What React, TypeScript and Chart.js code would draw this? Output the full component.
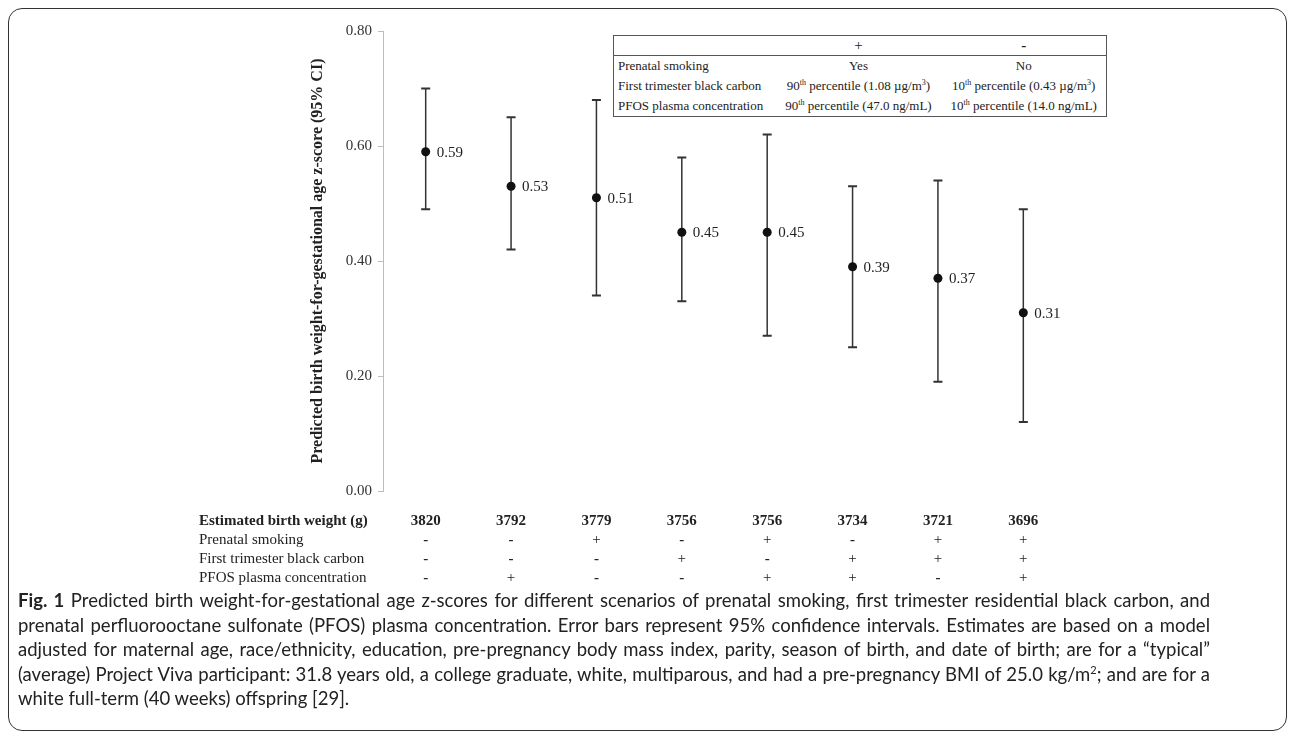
import React, { useEffect, useRef } from "react";
import { Chart, registerables } from "chart.js";

Chart.register(...registerables);

const weights = ["3820", "3792", "3779", "3756", "3756", "3734", "3721", "3696"];
const estimates = [0.59, 0.53, 0.51, 0.45, 0.45, 0.39, 0.37, 0.31];
const upperCI = [0.7, 0.65, 0.68, 0.58, 0.62, 0.53, 0.54, 0.49];
const lowerCI = [0.49, 0.42, 0.34, 0.33, 0.27, 0.25, 0.19, 0.12];
const smoking = ["-", "-", "+", "-", "+", "-", "+", "+"];
const blackCarbon = ["-", "-", "-", "+", "-", "+", "+", "+"];
const pfos = ["-", "+", "-", "-", "+", "+", "-", "+"];
const yTicks = [0, 0.2, 0.4, 0.6, 0.8];
const rowLabels = [
  "Estimated birth weight (g)",
  "Prenatal smoking",
  "First trimester black carbon",
  "PFOS plasma concentration",
];
const yTitle = "Predicted birth weight-for-gestational age z-score (95% CI)";

const SERIF = "'Liberation Serif', 'Times New Roman', serif";
const INK = "#222";

const errorBarPlugin = {
  id: "errorBars",
  beforeDatasetsDraw(chart: any) {
    const ctx = chart.ctx;
    const xs = chart.scales.x;
    const ys = chart.scales.y;
    ctx.save();
    ctx.strokeStyle = "#333";
    for (let i = 0; i < estimates.length; i++) {
      const x = xs.getPixelForValue(i);
      const yt = ys.getPixelForValue(upperCI[i]);
      const yb = ys.getPixelForValue(lowerCI[i]);
      ctx.lineWidth = 1.5;
      ctx.beginPath();
      ctx.moveTo(x, yt);
      ctx.lineTo(x, yb);
      ctx.stroke();
      ctx.lineWidth = 2.2;
      ctx.beginPath();
      ctx.moveTo(x - 4.5, yt);
      ctx.lineTo(x + 4.5, yt);
      ctx.moveTo(x - 4.5, yb);
      ctx.lineTo(x + 4.5, yb);
      ctx.stroke();
    }
    ctx.restore();
  },
  afterDatasetsDraw(chart: any) {
    const ctx = chart.ctx;
    const xs = chart.scales.x;
    const ys = chart.scales.y;
    ctx.save();
    ctx.fillStyle = INK;
    ctx.font = `15px ${SERIF}`;
    ctx.textAlign = "left";
    ctx.textBaseline = "middle";
    for (let i = 0; i < estimates.length; i++) {
      const x = xs.getPixelForValue(i);
      const y = ys.getPixelForValue(estimates[i]);
      ctx.fillText(estimates[i].toFixed(2), x + 11, y + 1);
    }
    ctx.restore();
  },
  afterDraw(chart: any) {
    const ctx = chart.ctx;
    const xs = chart.scales.x;
    const base = chart.chartArea.bottom + 30;
    const step = 19;
    ctx.save();
    ctx.fillStyle = INK;
    ctx.textBaseline = "middle";
    rowLabels.forEach((lab, r) => {
      ctx.font = `${r === 0 ? "bold " : ""}15px ${SERIF}`;
      ctx.textAlign = "left";
      ctx.fillText(lab, 199, base + r * step);
    });
    const rows = [weights, smoking, blackCarbon, pfos];
    rows.forEach((row, r) => {
      for (let i = 0; i < row.length; i++) {
        const x = xs.getPixelForValue(i);
        const v = row[i];
        ctx.textAlign = "center";
        ctx.font = `${r === 0 || v === "-" ? "bold " : ""}15px ${SERIF}`;
        ctx.fillText(v, x, base + r * step);
      }
    });
    ctx.restore();
  },
};

const sup: React.CSSProperties = { fontSize: "8px", verticalAlign: "super", lineHeight: 0 };

function InsetTable() {
  const cell: React.CSSProperties = { padding: "0 4px", height: "20px", whiteSpace: "nowrap" };
  const c = (t: React.ReactNode, align: "left" | "center" = "center") => (
    <td style={{ ...cell, textAlign: align }}>{t}</td>
  );
  return (
    <table
      style={{
        position: "absolute",
        left: 613,
        top: 35,
        width: 493,
        borderCollapse: "collapse",
        border: "1px solid #555",
        fontFamily: SERIF,
        fontSize: "13px",
        color: INK,
        background: "#fff",
        tableLayout: "fixed",
      }}
    >
      <colgroup>
        <col style={{ width: 162 }} />
        <col style={{ width: 166 }} />
        <col style={{ width: 165 }} />
      </colgroup>
      <tbody>
        <tr style={{ borderBottom: "1px solid #555" }}>
          <td style={{ ...cell, height: "19px" }}></td>
          <td style={{ ...cell, height: "19px", textAlign: "center", fontSize: "15px" }}>+</td>
          <td style={{ ...cell, height: "19px", textAlign: "center", fontWeight: "bold", fontSize: "15px" }}>-</td>
        </tr>
        <tr>
          {c("Prenatal smoking", "left")}
          {c("Yes")}
          {c("No")}
        </tr>
        <tr>
          {c("First trimester black carbon", "left")}
          {c(<>90<span style={sup}>th</span> percentile (1.08 µg/m<span style={sup}>3</span>)</>)}
          {c(<>10<span style={sup}>th</span> percentile (0.43 µg/m<span style={sup}>3</span>)</>)}
        </tr>
        <tr>
          {c("PFOS plasma concentration", "left")}
          {c(<>90<span style={sup}>th</span> percentile (47.0 ng/mL)</>)}
          {c(<>10<span style={sup}>th</span> percentile (14.0 ng/mL)</>)}
        </tr>
      </tbody>
    </table>
  );
}

export default function App() {
  const ref = useRef<HTMLCanvasElement | null>(null);
  useEffect(() => {
    if (!ref.current) return;
    const chart = new Chart(ref.current, {
      type: "line",
      data: {
        labels: weights,
        datasets: [
          {
            data: estimates,
            showLine: false,
            pointRadius: 4.5,
            pointBackgroundColor: "#111",
            pointBorderColor: "#111",
            pointBorderWidth: 0,
          },
        ],
      },
      options: {
        animation: false,
        responsive: false,
        devicePixelRatio: 1,
        layout: { padding: { left: 300, right: 226, top: 31, bottom: 245 } },
        plugins: { legend: { display: false }, tooltip: { enabled: false } },
        scales: {
          x: { type: "category", offset: true, display: false },
          y: {
            min: 0,
            max: 0.8,
            afterBuildTicks: (s: any) => {
              s.ticks = yTicks.map((v) => ({ value: v }));
            },
            afterFit: (s: any) => {
              s.width = 83;
            },
            ticks: {
              callback: (v: any) => Number(v).toFixed(2),
              font: { family: SERIF, size: 15 },
              color: "#333",
              padding: 6,
            },
            grid: { drawOnChartArea: false, drawTicks: true, tickLength: 5, color: "#bdbdbd" },
            border: { display: true, color: "#bdbdbd", width: 1 },
            title: {
              display: true,
              text: yTitle,
              font: { family: SERIF, size: 16, weight: "bold" },
              color: INK,
              padding: { top: 8, bottom: 0 },
            },
          },
        },
      },
      plugins: [errorBarPlugin],
    } as any);
    return () => chart.destroy();
  }, []);

  const just: React.CSSProperties = {
    whiteSpace: "nowrap",
    width: 1192,
    textAlign: "justify",
    textAlignLast: "justify" as any,
  };
  return (
    <div style={{ position: "absolute", left: 0, top: 0, width: 1292, height: 736, background: "#fff", overflow: "hidden" }}>
      <canvas ref={ref} width={1292} height={736} style={{ position: "absolute", left: 0, top: 0 }} />
      <InsetTable />
      <div
        style={{
          position: "absolute",
          left: 8,
          top: 8,
          width: 1279,
          height: 723,
          boxSizing: "border-box",
          border: "1.5px solid #333",
          borderRadius: 14,
          pointerEvents: "none",
        }}
      />
      <div
        style={{
          position: "absolute",
          left: 18,
          top: 588,
          fontFamily: "Lato, 'Noto Sans', sans-serif",
          fontSize: "18.5px",
          lineHeight: "24.5px",
          color: "#222",
        }}
      >
        <div style={just}>
          <b>Fig. 1</b> Predicted birth weight-for-gestational age z-scores for different scenarios of prenatal smoking, first trimester residential black carbon, and
        </div>
        <div style={just}>
          prenatal perfluorooctane sulfonate (PFOS) plasma concentration. Error bars represent 95% confidence intervals. Estimates are based on a model
        </div>
        <div style={just}>
          adjusted for maternal age, race/ethnicity, education, pre-pregnancy body mass index, parity, season of birth, and date of birth; are for a “typical”
        </div>
        <div style={just}>
          (average) Project Viva participant: 31.8 years old, a college graduate, white, multiparous, and had a pre-pregnancy BMI of 25.0 kg/m
          <sup style={{ fontSize: "11px", lineHeight: 0 }}>2</sup>; and are for a
        </div>
        <div style={{ whiteSpace: "nowrap" }}>white full-term (40 weeks) offspring [29].</div>
      </div>
    </div>
  );
}
